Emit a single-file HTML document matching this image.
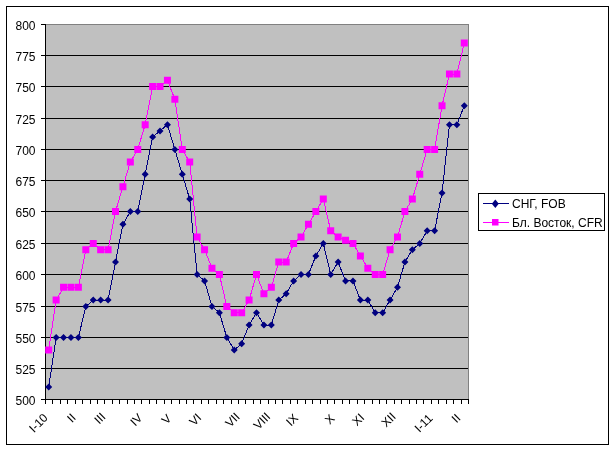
<!DOCTYPE html><html><head><meta charset="utf-8"><style>html,body{margin:0;padding:0;background:#fff;width:616px;height:452px;overflow:hidden}svg{display:block;will-change:transform}text{font-family:"Liberation Sans",sans-serif;font-size:12px;fill:#000}</style></head><body>
<svg width="616" height="452" viewBox="0 0 616 452">
<rect x="6.5" y="6.5" width="602" height="438" fill="#fff" stroke="#000" stroke-width="1" shape-rendering="crispEdges"/>
<rect x="45.5" y="24.5" width="423" height="375" fill="#c0c0c0" stroke="#808080" stroke-width="1" shape-rendering="crispEdges"/>
<path d="M41 368.5H468M41 337.5H468M41 306.5H468M41 274.5H468M41 243.5H468M41 211.5H468M41 180.5H468M41 149.5H468M41 118.5H468M41 86.5H468M41 55.5H468" stroke="#000" stroke-width="1" fill="none" shape-rendering="crispEdges"/>
<path d="M41 24.5H45" stroke="#000" stroke-width="1" fill="none" shape-rendering="crispEdges"/>
<path d="M45.5 24V400M41 399.5H469" stroke="#000" stroke-width="1" fill="none" shape-rendering="crispEdges"/>
<path d="M45.5 399V404M52.5 399V404M60.5 399V404M67.5 399V404M75.5 399V404M82.5 399V404M90.5 399V404M97.5 399V404M104.5 399V404M112.5 399V404M119.5 399V404M127.5 399V404M134.5 399V404M141.5 399V404M149.5 399V404M156.5 399V404M164.5 399V404M171.5 399V404M179.5 399V404M186.5 399V404M193.5 399V404M201.5 399V404M208.5 399V404M216.5 399V404M223.5 399V404M231.5 399V404M238.5 399V404M245.5 399V404M253.5 399V404M260.5 399V404M268.5 399V404M275.5 399V404M282.5 399V404M290.5 399V404M297.5 399V404M305.5 399V404M312.5 399V404M320.5 399V404M327.5 399V404M334.5 399V404M342.5 399V404M349.5 399V404M357.5 399V404M364.5 399V404M372.5 399V404M379.5 399V404M386.5 399V404M394.5 399V404M401.5 399V404M409.5 399V404M416.5 399V404M423.5 399V404M431.5 399V404M438.5 399V404M446.5 399V404M453.5 399V404M461.5 399V404M468.5 399V404" stroke="#000" stroke-width="1" fill="none" shape-rendering="crispEdges"/>
<text x="35.5" y="404.5" text-anchor="end">500</text>
<text x="35.5" y="373.5" text-anchor="end">525</text>
<text x="35.5" y="342.5" text-anchor="end">550</text>
<text x="35.5" y="311.5" text-anchor="end">575</text>
<text x="35.5" y="279.5" text-anchor="end">600</text>
<text x="35.5" y="248.5" text-anchor="end">625</text>
<text x="35.5" y="216.5" text-anchor="end">650</text>
<text x="35.5" y="185.5" text-anchor="end">675</text>
<text x="35.5" y="154.5" text-anchor="end">700</text>
<text x="35.5" y="123.5" text-anchor="end">725</text>
<text x="35.5" y="91.5" text-anchor="end">750</text>
<text x="35.5" y="60.5" text-anchor="end">775</text>
<text x="35.5" y="29.5" text-anchor="end">800</text>
<text x="0" y="0" text-anchor="end" transform="translate(48.6,418.5) rotate(-45)">I-10</text>
<text x="0" y="0" text-anchor="end" transform="translate(76.7,418.5) rotate(-45)">II</text>
<text x="0" y="0" text-anchor="end" transform="translate(106.3,417.6) rotate(-45)">III</text>
<text x="0" y="0" text-anchor="end" transform="translate(143.2,418.7) rotate(-45)">IV</text>
<text x="0" y="0" text-anchor="end" transform="translate(172.1,419.4) rotate(-45)">V</text>
<text x="0" y="0" text-anchor="end" transform="translate(202.2,418.5) rotate(-45)">VI</text>
<text x="0" y="0" text-anchor="end" transform="translate(240.5,417.6) rotate(-45)">VII</text>
<text x="0" y="0" text-anchor="end" transform="translate(271.2,417.5) rotate(-45)">VIII</text>
<text x="0" y="0" text-anchor="end" transform="translate(299,418.8) rotate(-45)">IX</text>
<text x="0" y="0" text-anchor="end" transform="translate(335.5,419.3) rotate(-45)">X</text>
<text x="0" y="0" text-anchor="end" transform="translate(365,418.5) rotate(-45)">XI</text>
<text x="0" y="0" text-anchor="end" transform="translate(396.6,417.5) rotate(-45)">XII</text>
<text x="0" y="0" text-anchor="end" transform="translate(433.4,419) rotate(-45)">I-11</text>
<text x="0" y="0" text-anchor="end" transform="translate(461.3,418.8) rotate(-45)">II</text>
<polyline points="48.71,349.90 56.13,300.10 63.55,287.30 70.97,287.30 78.39,287.30 85.82,249.70 93.24,243.50 100.66,249.70 108.08,249.70 115.50,211.50 122.92,186.70 130.34,161.90 137.76,149.50 145.18,124.70 152.61,86.50 160.03,86.50 167.45,80.30 174.87,99.30 182.29,149.50 189.71,161.90 197.13,237.10 204.55,249.70 211.97,268.30 219.39,274.50 226.82,306.50 234.24,312.70 241.66,312.70 249.08,300.10 256.50,274.50 263.92,293.70 271.34,287.30 278.76,262.10 286.18,262.10 293.61,243.50 301.03,237.10 308.45,224.30 315.87,211.50 323.29,199.10 330.71,230.70 338.13,237.10 345.55,240.30 352.97,243.50 360.39,255.90 367.82,268.30 375.24,274.50 382.66,274.50 390.08,249.70 397.50,237.10 404.92,211.50 412.34,199.10 419.76,174.30 427.18,149.50 434.61,149.50 442.03,105.70 449.45,74.10 456.87,74.10 464.29,43.10" fill="none" stroke="#ff00ff" stroke-width="1" shape-rendering="crispEdges"/>
<polyline points="48.71,387.10 56.13,337.50 63.55,337.50 70.97,337.50 78.39,337.50 85.82,306.50 93.24,300.10 100.66,300.10 108.08,300.10 115.50,262.10 122.92,224.30 130.34,211.50 137.76,211.50 145.18,174.30 152.61,137.10 160.03,130.90 167.45,124.70 174.87,149.50 182.29,174.30 189.71,199.10 197.13,274.50 204.55,280.90 211.97,306.50 219.39,312.70 226.82,337.50 234.24,349.90 241.66,343.70 249.08,325.10 256.50,312.70 263.92,325.10 271.34,325.10 278.76,300.10 286.18,293.70 293.61,280.90 301.03,274.50 308.45,274.50 315.87,255.90 323.29,243.50 330.71,274.50 338.13,262.10 345.55,280.90 352.97,280.90 360.39,300.10 367.82,300.10 375.24,312.70 382.66,312.70 390.08,300.10 397.50,287.30 404.92,262.10 412.34,249.70 419.76,243.50 427.18,230.70 434.61,230.70 442.03,192.90 449.45,124.70 456.87,124.70 464.29,105.70" fill="none" stroke="#000080" stroke-width="1" shape-rendering="crispEdges"/>
<path d="M45.21 346.40h7v7h-7zM52.63 296.60h7v7h-7zM60.05 283.80h7v7h-7zM67.47 283.80h7v7h-7zM74.89 283.80h7v7h-7zM82.32 246.20h7v7h-7zM89.74 240.00h7v7h-7zM97.16 246.20h7v7h-7zM104.58 246.20h7v7h-7zM112.00 208.00h7v7h-7zM119.42 183.20h7v7h-7zM126.84 158.40h7v7h-7zM134.26 146.00h7v7h-7zM141.68 121.20h7v7h-7zM149.11 83.00h7v7h-7zM156.53 83.00h7v7h-7zM163.95 76.80h7v7h-7zM171.37 95.80h7v7h-7zM178.79 146.00h7v7h-7zM186.21 158.40h7v7h-7zM193.63 233.60h7v7h-7zM201.05 246.20h7v7h-7zM208.47 264.80h7v7h-7zM215.89 271.00h7v7h-7zM223.32 303.00h7v7h-7zM230.74 309.20h7v7h-7zM238.16 309.20h7v7h-7zM245.58 296.60h7v7h-7zM253.00 271.00h7v7h-7zM260.42 290.20h7v7h-7zM267.84 283.80h7v7h-7zM275.26 258.60h7v7h-7zM282.68 258.60h7v7h-7zM290.11 240.00h7v7h-7zM297.53 233.60h7v7h-7zM304.95 220.80h7v7h-7zM312.37 208.00h7v7h-7zM319.79 195.60h7v7h-7zM327.21 227.20h7v7h-7zM334.63 233.60h7v7h-7zM342.05 236.80h7v7h-7zM349.47 240.00h7v7h-7zM356.89 252.40h7v7h-7zM364.32 264.80h7v7h-7zM371.74 271.00h7v7h-7zM379.16 271.00h7v7h-7zM386.58 246.20h7v7h-7zM394.00 233.60h7v7h-7zM401.42 208.00h7v7h-7zM408.84 195.60h7v7h-7zM416.26 170.80h7v7h-7zM423.68 146.00h7v7h-7zM431.11 146.00h7v7h-7zM438.53 102.20h7v7h-7zM445.95 70.60h7v7h-7zM453.37 70.60h7v7h-7zM460.79 39.60h7v7h-7z" fill="#ff00ff"/>
<path d="M48.71 383.60L52.21 387.10L48.71 390.60L45.21 387.10zM56.13 334.00L59.63 337.50L56.13 341.00L52.63 337.50zM63.55 334.00L67.05 337.50L63.55 341.00L60.05 337.50zM70.97 334.00L74.47 337.50L70.97 341.00L67.47 337.50zM78.39 334.00L81.89 337.50L78.39 341.00L74.89 337.50zM85.82 303.00L89.32 306.50L85.82 310.00L82.32 306.50zM93.24 296.60L96.74 300.10L93.24 303.60L89.74 300.10zM100.66 296.60L104.16 300.10L100.66 303.60L97.16 300.10zM108.08 296.60L111.58 300.10L108.08 303.60L104.58 300.10zM115.50 258.60L119.00 262.10L115.50 265.60L112.00 262.10zM122.92 220.80L126.42 224.30L122.92 227.80L119.42 224.30zM130.34 208.00L133.84 211.50L130.34 215.00L126.84 211.50zM137.76 208.00L141.26 211.50L137.76 215.00L134.26 211.50zM145.18 170.80L148.68 174.30L145.18 177.80L141.68 174.30zM152.61 133.60L156.11 137.10L152.61 140.60L149.11 137.10zM160.03 127.40L163.53 130.90L160.03 134.40L156.53 130.90zM167.45 121.20L170.95 124.70L167.45 128.20L163.95 124.70zM174.87 146.00L178.37 149.50L174.87 153.00L171.37 149.50zM182.29 170.80L185.79 174.30L182.29 177.80L178.79 174.30zM189.71 195.60L193.21 199.10L189.71 202.60L186.21 199.10zM197.13 271.00L200.63 274.50L197.13 278.00L193.63 274.50zM204.55 277.40L208.05 280.90L204.55 284.40L201.05 280.90zM211.97 303.00L215.47 306.50L211.97 310.00L208.47 306.50zM219.39 309.20L222.89 312.70L219.39 316.20L215.89 312.70zM226.82 334.00L230.32 337.50L226.82 341.00L223.32 337.50zM234.24 346.40L237.74 349.90L234.24 353.40L230.74 349.90zM241.66 340.20L245.16 343.70L241.66 347.20L238.16 343.70zM249.08 321.60L252.58 325.10L249.08 328.60L245.58 325.10zM256.50 309.20L260.00 312.70L256.50 316.20L253.00 312.70zM263.92 321.60L267.42 325.10L263.92 328.60L260.42 325.10zM271.34 321.60L274.84 325.10L271.34 328.60L267.84 325.10zM278.76 296.60L282.26 300.10L278.76 303.60L275.26 300.10zM286.18 290.20L289.68 293.70L286.18 297.20L282.68 293.70zM293.61 277.40L297.11 280.90L293.61 284.40L290.11 280.90zM301.03 271.00L304.53 274.50L301.03 278.00L297.53 274.50zM308.45 271.00L311.95 274.50L308.45 278.00L304.95 274.50zM315.87 252.40L319.37 255.90L315.87 259.40L312.37 255.90zM323.29 240.00L326.79 243.50L323.29 247.00L319.79 243.50zM330.71 271.00L334.21 274.50L330.71 278.00L327.21 274.50zM338.13 258.60L341.63 262.10L338.13 265.60L334.63 262.10zM345.55 277.40L349.05 280.90L345.55 284.40L342.05 280.90zM352.97 277.40L356.47 280.90L352.97 284.40L349.47 280.90zM360.39 296.60L363.89 300.10L360.39 303.60L356.89 300.10zM367.82 296.60L371.32 300.10L367.82 303.60L364.32 300.10zM375.24 309.20L378.74 312.70L375.24 316.20L371.74 312.70zM382.66 309.20L386.16 312.70L382.66 316.20L379.16 312.70zM390.08 296.60L393.58 300.10L390.08 303.60L386.58 300.10zM397.50 283.80L401.00 287.30L397.50 290.80L394.00 287.30zM404.92 258.60L408.42 262.10L404.92 265.60L401.42 262.10zM412.34 246.20L415.84 249.70L412.34 253.20L408.84 249.70zM419.76 240.00L423.26 243.50L419.76 247.00L416.26 243.50zM427.18 227.20L430.68 230.70L427.18 234.20L423.68 230.70zM434.61 227.20L438.11 230.70L434.61 234.20L431.11 230.70zM442.03 189.40L445.53 192.90L442.03 196.40L438.53 192.90zM449.45 121.20L452.95 124.70L449.45 128.20L445.95 124.70zM456.87 121.20L460.37 124.70L456.87 128.20L453.37 124.70zM464.29 102.20L467.79 105.70L464.29 109.20L460.79 105.70z" fill="#000080"/>
<rect x="478.5" y="193.5" width="126" height="37" fill="#fff" stroke="#000" stroke-width="1" shape-rendering="crispEdges"/>
<path d="M483 203.5H509" stroke="#000080" stroke-width="1" shape-rendering="crispEdges"/>
<path d="M495.3 199.6L498.8 203.8L495.3 208L491.8 203.8z" fill="#000080"/>
<path d="M483 222.5H509" stroke="#ff00ff" stroke-width="1" shape-rendering="crispEdges"/>
<rect x="492" y="219" width="6.5" height="6.5" fill="#ff00ff"/>
<text x="512" y="207.5">СНГ, FOB</text>
<text x="512" y="226.5">Бл. Восток, CFR</text>
</svg></body></html>
